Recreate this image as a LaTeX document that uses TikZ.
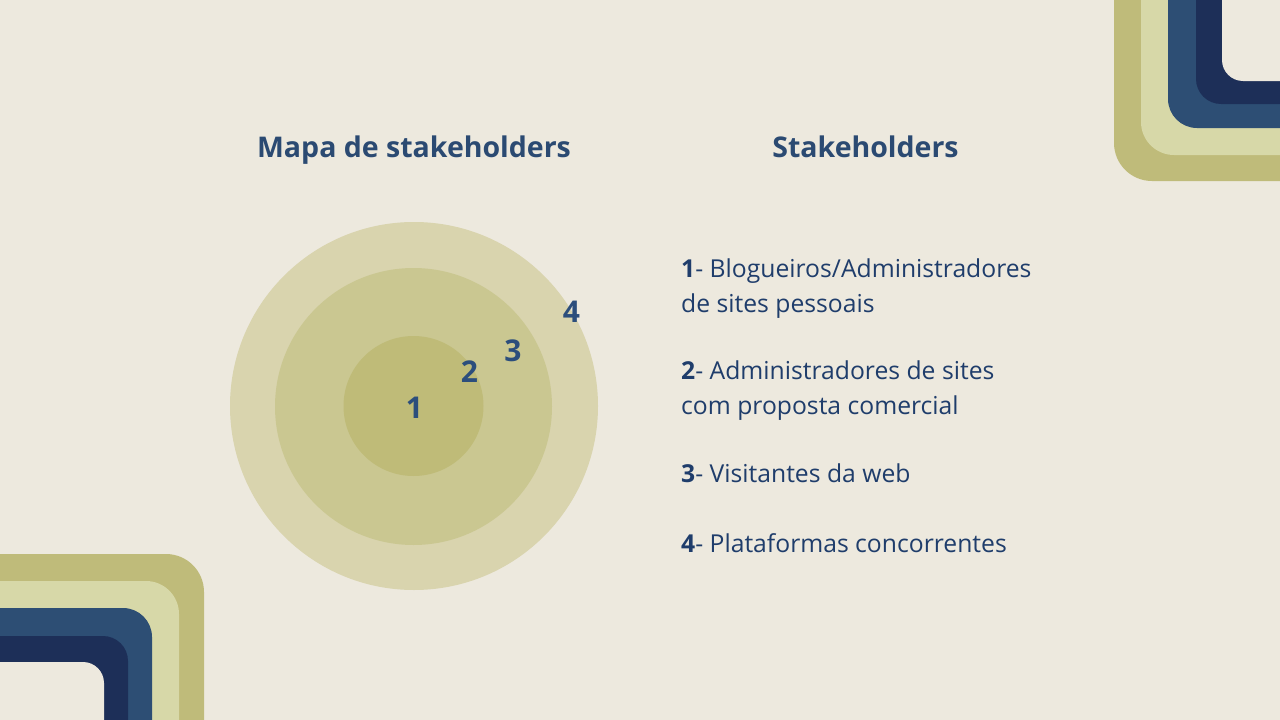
\documentclass[tikz,border=0pt]{standalone}
\usepackage{fontspec}
\setmainfont{Open Sans}
\begin{document}
\definecolor{bgcol}{HTML}{EDE9DE}
\definecolor{ringout}{HTML}{D9D4AE}
\definecolor{ringmid}{HTML}{CAC791}
\definecolor{ringin}{HTML}{BFBB78}
\definecolor{olive}{HTML}{BFBB7A}
\definecolor{pale}{HTML}{D7D8A8}
\definecolor{steel}{HTML}{2D4E74}
\definecolor{navy}{HTML}{1D2F58}
\definecolor{titlecol}{HTML}{2B4A72}
\definecolor{textcol}{HTML}{1F3D6B}
\definecolor{digitcol}{HTML}{2C4E7C}
\begin{tikzpicture}[x=1pt,y=-1pt,
  title/.style={font=\fontsize{28.5}{32}\selectfont\bfseries, text=titlecol, inner sep=0pt, anchor=base},
  ringnum/.style={font=\fontsize{30}{34}\selectfont\bfseries, text=digitcol, inner sep=0pt},
  item/.style={font=\fontsize{24.7}{34}\selectfont, text=textcol, inner sep=0pt, anchor=base west}]
  % page
  \fill[bgcol] (0,0) rectangle (1280,720);
  \useasboundingbox (0,0) rectangle (1280,720);

  \begin{scope}
    \clip (0,0) rectangle (1280,720);
    % top-right corner bands
    \fill[olive, rounded corners=38] (1114,-60) rectangle (1340,181);
    \fill[pale, rounded corners=33] (1141,-60) rectangle (1340,155);
    \fill[steel, rounded corners=29] (1168,-60) rectangle (1340,128);
    \fill[navy, rounded corners=25] (1196,-60) rectangle (1340,104);
    \fill[bgcol, rounded corners=21] (1222,-60) rectangle (1340,81);

    % bottom-left corner bands
    \fill[olive, rounded corners=38] (-60,554) rectangle (204,780);
    \fill[pale, rounded corners=33] (-60,581) rectangle (179,780);
    \fill[steel, rounded corners=29] (-60,608) rectangle (152,780);
    \fill[navy, rounded corners=25] (-60,636) rectangle (128,780);
    \fill[bgcol, rounded corners=21] (-60,662) rectangle (104,780);
  \end{scope}

  % stakeholder rings
  \fill[ringout] (414,406) circle (184);
  \fill[ringmid] (413.5,406.5) circle (138.5);
  \fill[ringin] (413.5,406) circle (70);

  \node[ringnum] (n1) at (414.5,407.5) {1};
  \node[ringnum] (n2) at (469.5,372) {2};
  \node[ringnum] (n3) at (513,351) {3};
  \node[ringnum] (n4) at (571.5,311.7) {4};

  % headings
  \node[title] (maptitle) at (414,157) {Mapa de stakeholders};
  \node[title] (listtitle) at (865.5,157) {Stakeholders};

  % legend
  \node[item] (i1a) at (681,277.5) {\textbf{1}- Blogueiros/Administradores};
  \node[item] (i1b) at (681,312) {de sites pessoais};
  \node[item] (i2a) at (681,379.5) {\textbf{2}- Administradores de sites};
  \node[item] (i2b) at (681,414.5) {com proposta comercial};
  \node[item] (i3) at (681,482) {\textbf{3}- Visitantes da web};
  \node[item] (i4) at (681,552) {\textbf{4}- Plataformas concorrentes};
\end{tikzpicture}
\end{document}
